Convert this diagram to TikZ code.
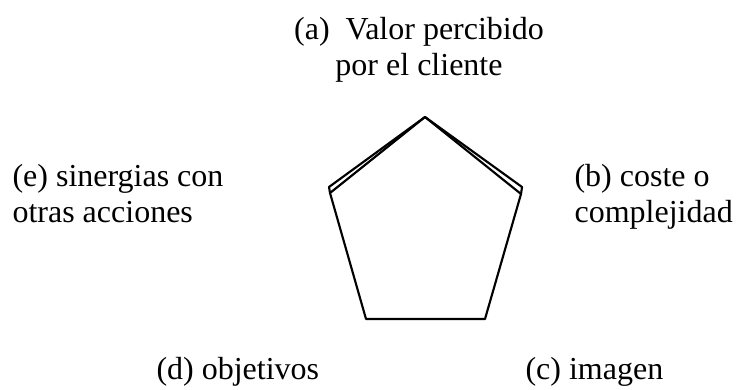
\documentclass[tikz,border=0pt]{standalone}
\usepackage{fontspec}
\setmainfont{Liberation Serif}
\usepackage{tikz}
\begin{document}
\begin{tikzpicture}[line cap=round,line join=round,x=0.375pt,y=-0.375pt]
\tikzstyle{myedge}= [line width=0.8pt];
\tikzstyle{mylabel}= [inner sep=0pt, font=\fontsize{12}{13.5}\selectfont];
\useasboundingbox (0,0) rectangle (737,390);
% vertices
\coordinate (top) at (425,117);
\coordinate (left) at (330,193);
\coordinate (leftout) at (329,187);
\coordinate (right) at (521,194);
\coordinate (rightout) at (522,187);
\coordinate (botleft) at (366,319);
\coordinate (botright) at (485,319);
\draw [myedge] (top)-- (left)-- (botleft)-- (botright)-- (right)-- cycle;
\draw [myedge] (top)-- (leftout)-- (left);
\draw [myedge] (top)-- (rightout)-- (right);
% labels
\node[mylabel, align=center] (a) at (419,50) {(a)\ \ Valor percibido\\por el cliente};
\node[mylabel, align=left, anchor=north west] (e) at (12,164) {(e) sinergias con\\otras acciones};
\node[mylabel, align=left, anchor=north west] (b) at (574,164) {(b) coste o\\complejidad};
\node[mylabel, anchor=base west] (d) at (156,380) {(d) objetivos};
\node[mylabel, anchor=base west] (c) at (525,380) {(c) imagen};
\end{tikzpicture}
\end{document}
